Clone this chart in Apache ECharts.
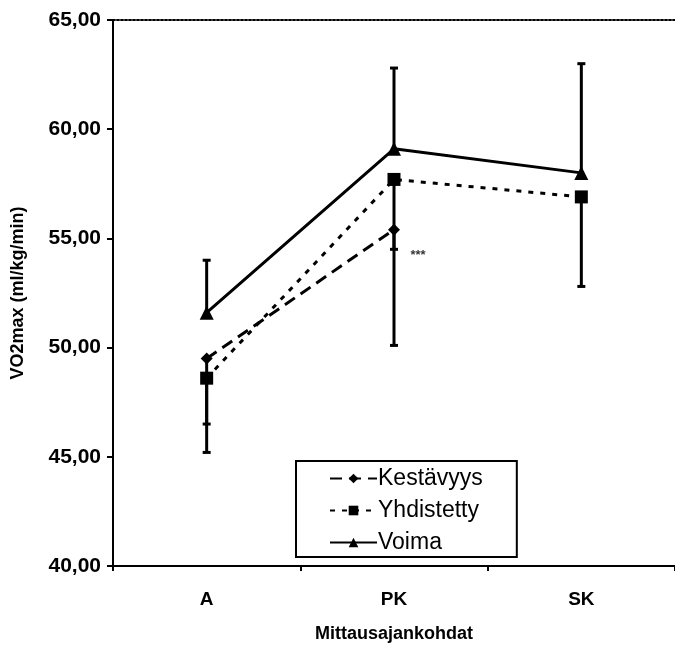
<!DOCTYPE html>
<html><head><meta charset="utf-8">
<script src="https://cdn.jsdelivr.net/npm/echarts@6/dist/echarts.min.js"></script>
<style>html,body{margin:0;padding:0;background:#fff}#c{width:675px;height:648px}</style>
</head><body><div id="c"></div>
<script>
const categories = ['A', 'PK', 'SK'];
const kestavyys = [49.5, 55.4, null];
const kestavyysLow = [46.5, 54.5, null];
const yhdistetty = [48.6, 57.7, 56.9];
const yhdistettyLow = [45.2, 50.1, 52.8];
const voima = [51.6, 59.1, 58.0];
const voimaHigh = [54.0, 62.8, 63.0];
const seriesNames = ['Kestävyys', 'Yhdistetty', 'Voima'];
const yMin = 40, yMax = 65, yStep = 5;
const annotation = '***';
const annotationAt = [1, 54.2];

const F = '"Liberation Sans", Arial, sans-serif';

function errData(mean, end) {
  const out = [];
  mean.forEach((m, i) => { if (m != null && end[i] != null) out.push([i, m, end[i]]); });
  return out;
}
function errSeries(data) {
  return {
    type: 'custom', silent: true, z: 1,
    data: data,
    renderItem: function (params, api) {
      const p1 = api.coord([api.value(0), api.value(1)]);
      const p2 = api.coord([api.value(0), api.value(2)]);
      const st = { stroke: '#000', lineWidth: 3 };
      return { type: 'group', children: [
        { type: 'line', shape: { x1: p1[0], y1: p1[1], x2: p2[0], y2: p2[1] }, style: st },
        { type: 'line', shape: { x1: p2[0] - 4, y1: p2[1], x2: p2[0] + 4, y2: p2[1] }, style: st }
      ]};
    }
  };
}

const chart = echarts.init(document.getElementById('c'));
chart.setOption({
  animation: false,
  backgroundColor: '#fff',
  grid: { left: 113, top: 20, width: 566, bottom: 69, containLabel: false },
  legend: {
    data: seriesNames, orient: 'vertical', left: 296, top: 461,
    backgroundColor: '#fff', borderColor: '#000', borderWidth: 2, borderRadius: 0,
    padding: [6, 34, 3, 33], itemGap: 9, itemWidth: 47, itemHeight: 12,
    textStyle: { fontFamily: F, fontSize: 23, color: '#000', padding: [0, 0, 0, -4] }
  },
  xAxis: [{
    type: 'category', data: categories, boundaryGap: true,
    axisLine: { lineStyle: { color: '#000', width: 2 } },
    axisTick: { show: true, length: 5, lineStyle: { color: '#000', width: 2 } },
    axisLabel: { fontFamily: F, fontWeight: 'bold', fontSize: 19, color: '#000', margin: 24 },
    name: 'Mittausajankohdat', nameLocation: 'middle', nameGap: 59,
    nameTextStyle: { fontFamily: F, fontWeight: 'bold', fontSize: 18, color: '#000' },
    splitLine: { show: false }
  }, {
    type: 'category', data: categories, position: 'top', boundaryGap: true,
    axisLine: { lineStyle: { color: '#000', width: 2, type: [2, 2] } },
    axisTick: { show: false }, axisLabel: { show: false }, splitLine: { show: false }
  }],
  yAxis: {
    type: 'value', min: yMin, max: yMax, interval: yStep,
    axisLine: { show: true, lineStyle: { color: '#000', width: 2 } },
    axisTick: { show: true, length: 6, lineStyle: { color: '#000', width: 2 } },
    axisLabel: { fontFamily: F, fontWeight: 'bold', fontSize: 21, color: '#000', margin: 12,
      formatter: v => v.toFixed(2).replace('.', ',') },
    splitLine: { show: false },
    name: 'VO2max (ml/kg/min)', nameLocation: 'middle', nameGap: 86, nameRotate: 90,
    nameTextStyle: { fontFamily: F, fontWeight: 'bold', fontSize: 18, color: '#000' }
  },
  series: [
    errSeries(errData(voima, voimaHigh)),
    errSeries(errData(yhdistetty, yhdistettyLow)),
    errSeries(errData(kestavyys, kestavyysLow)),
    {
      name: seriesNames[0], type: 'line', data: kestavyys, z: 3,
      symbol: 'diamond', symbolSize: 12, connectNulls: false,
      lineStyle: { color: '#000', width: 3, type: [12, 7] },
      itemStyle: { color: '#000' }
    },
    {
      name: seriesNames[1], type: 'line', data: yhdistetty, z: 3,
      symbol: 'rect', symbolSize: 13,
      lineStyle: { color: '#000', width: 3, type: [5, 7] },
      itemStyle: { color: '#000' }
    },
    {
      name: seriesNames[2], type: 'line', data: voima, z: 3,
      symbol: 'triangle', symbolSize: 14,
      lineStyle: { color: '#000', width: 3, type: 'solid' },
      itemStyle: { color: '#000' }
    },
    {
      name: 'annotation', type: 'scatter', silent: true, z: 4,
      data: [annotationAt], symbolSize: 1, itemStyle: { color: 'rgba(0,0,0,0)' },
      label: { show: true, formatter: annotation, position: 'right', distance: 16,
        fontFamily: F, fontWeight: 'bold', fontSize: 13, color: '#000' }
    }
  ]
});
</script></body></html>
